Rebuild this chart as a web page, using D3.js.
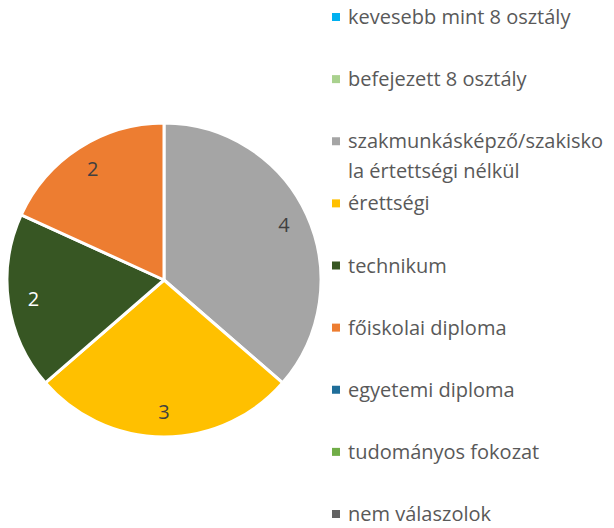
<!DOCTYPE html>
<html>
<head>
<meta charset="utf-8">
<script src="https://cdn.jsdelivr.net/npm/d3@7"></script>
<style>
  body { margin: 0; background: #fff; }
  svg { display: block; font-family: "Open Sans", Lato, sans-serif; }
</style>
</head>
<body>
<div id="chart"></div>
<script>
// categories, in legend order
var categories = [
  "kevesebb mint 8 osztály",
  "befejezett 8 osztály",
  "szakmunkásképző/szakiskola értettségi nélkül",
  "érettségi",
  "technikum",
  "főiskolai diploma",
  "egyetemi diploma",
  "tudományos fokozat",
  "nem válaszolok"
];
// how the legend text wraps
var legendLines = [
  ["kevesebb mint 8 osztály"],
  ["befejezett 8 osztály"],
  ["szakmunkásképző/szakisko", "la értettségi nélkül"],
  ["érettségi"],
  ["technikum"],
  ["főiskolai diploma"],
  ["egyetemi diploma"],
  ["tudományos fokozat"],
  ["nem válaszolok"]
];
var values = [0, 0, 4, 3, 2, 2, 0, 0, 0];
var colors = ["#00B0F0", "#A9D18E", "#A5A5A5", "#FFC000", "#375623",
              "#ED7D31", "#1F6E99", "#70AD47", "#636363"];
var labelColors = ["#404040", "#404040", "#404040", "#404040", "#ffffff",
                   "#404040", "#ffffff", "#404040", "#ffffff"];

var width = 614, height = 528;
var svg = d3.select("#chart").append("svg")
  .attr("width", width)
  .attr("height", height);

// pie
var cx = 164, cy = 280, radius = 157;
var pie = d3.pie().sort(null).value(function(d) { return d.value; });
var data = categories.map(function(c, i) { return { name: c, value: values[i], i: i }; });
var arcs = pie(data);
var arc = d3.arc().innerRadius(0).outerRadius(radius);
var labelArc = d3.arc().innerRadius(radius * 0.84).outerRadius(radius * 0.84);

var g = svg.append("g").attr("transform", "translate(" + cx + "," + cy + ")");
g.selectAll("path.slice")
  .data(arcs.filter(function(d) { return d.data.value > 0; }))
  .enter().append("path")
  .attr("class", "slice")
  .attr("d", arc)
  .attr("fill", function(d) { return colors[d.data.i]; })
  .attr("stroke", "#fff")
  .attr("stroke-width", 3)
  .attr("stroke-linejoin", "round");

g.selectAll("text.lbl")
  .data(arcs.filter(function(d) { return d.data.value > 0; }))
  .enter().append("text")
  .attr("class", "lbl")
  .attr("transform", function(d) { return "translate(" + labelArc.centroid(d) + ")"; })
  .attr("text-anchor", "middle")
  .attr("dy", "0.35em")
  .attr("font-size", 20)
  .attr("fill", function(d) { return labelColors[d.data.i]; })
  .text(function(d) { return d.data.value; });

// legend
var legendY = d3.scaleLinear().domain([0, categories.length - 1]).range([17, 514]);
var legend = svg.append("g");
var items = legend.selectAll("g.item")
  .data(categories)
  .enter().append("g")
  .attr("class", "item")
  .attr("transform", function(d, i) { return "translate(0," + legendY(i) + ")"; });

items.append("rect")
  .attr("x", 332).attr("y", -4)
  .attr("width", 8).attr("height", 8)
  .attr("fill", function(d, i) { return colors[i]; });

items.append("text")
  .attr("x", 348)
  .attr("font-size", 20)
  .attr("fill", "#595959")
  .each(function(d, i) {
    var t = d3.select(this);
    legendLines[i].forEach(function(line, k) {
      t.append("tspan")
        .attr("x", 348)
        .attr("y", k * 30)
        .attr("dy", "0.35em")
        .text(line);
    });
  });
</script>
</body>
</html>
